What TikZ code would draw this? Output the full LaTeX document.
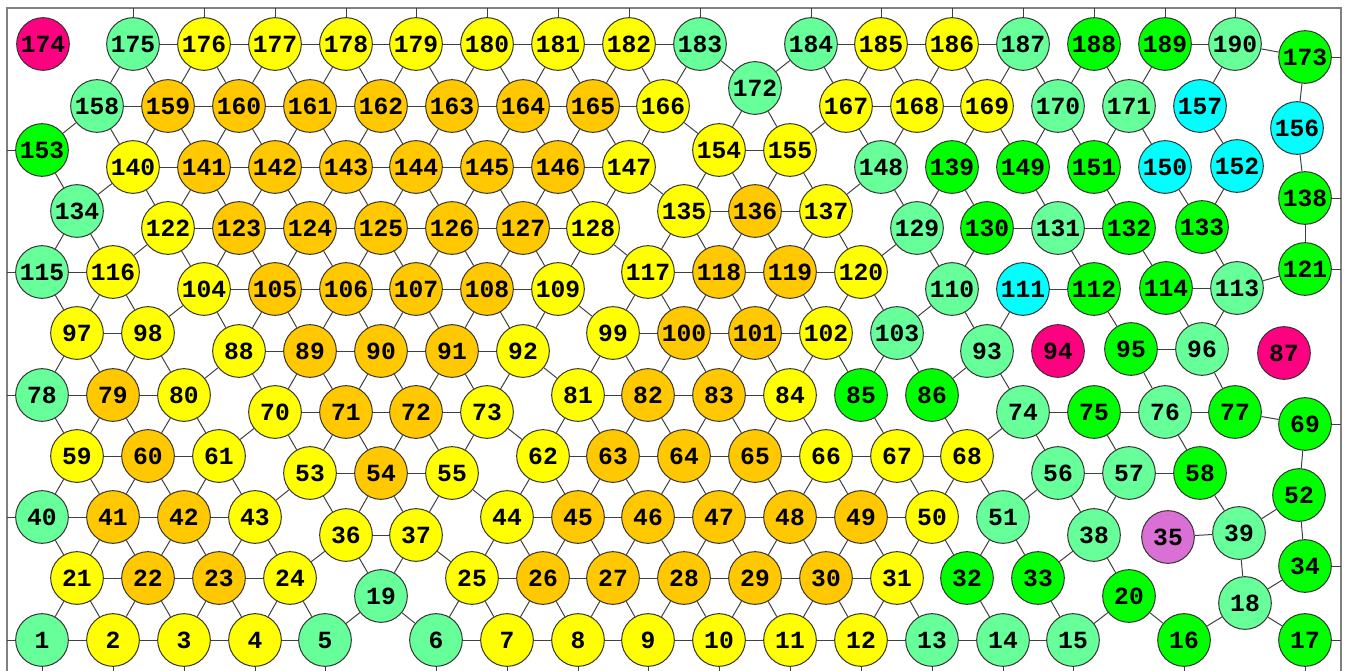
\documentclass[tikz,border=0pt]{standalone}
\usepackage{fontspec}
\setmonofont{Liberation Mono}
\definecolor{cye}{HTML}{FFFF00}
\definecolor{cog}{HTML}{FFC800}
\definecolor{clg}{HTML}{66FF99}
\definecolor{cgr}{HTML}{00FF00}
\definecolor{ccy}{HTML}{00FFFF}
\definecolor{cmg}{HTML}{FF0080}
\definecolor{cor}{HTML}{DA70D6}
\definecolor{cedge}{HTML}{404040}
\definecolor{cframe}{HTML}{808080}
\tikzset{
  nd/.style={circle,draw=black!80,line width=0.75pt,minimum size=39.5pt,inner sep=0pt,
    font=\ttfamily\bfseries\fontsize{18.5}{18.5}\selectfont},
  ye/.style={nd,fill=cye}, og/.style={nd,fill=cog}, lg/.style={nd,fill=clg},
  gr/.style={nd,fill=cgr}, cy/.style={nd,fill=ccy}, mg/.style={nd,fill=cmg}, orc/.style={nd,fill=cor},
  edge/.style={draw=cedge,line width=0.75pt},
  frm/.style={draw=cframe,line width=1.3pt}
}
\begin{document}
\begin{tikzpicture}[x=0.75pt,y=-0.75pt]
\useasboundingbox (0,0) rectangle (1347,671);
\draw[frm] (7,671) -- (7,8) -- (1341,8) -- (1341,671);
\coordinate (top) at (0,8);
\coordinate (lft) at (7,0);
\coordinate (rgt) at (1341,0);
\coordinate (bot) at (0,671);
% nodes
\node[lg] (n1) at (42,640) {1};
\node[ye] (n2) at (113,640) {2};
\node[ye] (n3) at (184,640) {3};
\node[ye] (n4) at (255,640) {4};
\node[lg] (n5) at (325,640) {5};
\node[lg] (n6) at (436,640) {6};
\node[ye] (n7) at (507,640) {7};
\node[ye] (n8) at (578,640) {8};
\node[ye] (n9) at (648,640) {9};
\node[ye] (n10) at (719,640) {10};
\node[ye] (n11) at (790,640) {11};
\node[ye] (n12) at (861,640) {12};
\node[lg] (n13) at (932,640) {13};
\node[lg] (n14) at (1003,640) {14};
\node[lg] (n15) at (1073,640) {15};
\node[gr] (n16) at (1184,640) {16};
\node[gr] (n17) at (1305,640) {17};
\node[lg] (n18) at (1245,603) {18};
\node[lg] (n19) at (381,596) {19};
\node[gr] (n20) at (1129,596) {20};
\node[ye] (n21) at (77,578) {21};
\node[og] (n22) at (148,578) {22};
\node[og] (n23) at (219,578) {23};
\node[ye] (n24) at (290,578) {24};
\node[ye] (n25) at (472,578) {25};
\node[og] (n26) at (543,578) {26};
\node[og] (n27) at (613,578) {27};
\node[og] (n28) at (684,578) {28};
\node[og] (n29) at (755,578) {29};
\node[og] (n30) at (826,578) {30};
\node[ye] (n31) at (897,578) {31};
\node[gr] (n32) at (967,578) {32};
\node[gr] (n33) at (1038,578) {33};
\node[gr] (n34) at (1305,566) {34};
\node[orc] (n35) at (1168,537) {35};
\node[ye] (n36) at (346,535) {36};
\node[ye] (n37) at (416,535) {37};
\node[lg] (n38) at (1094,535) {38};
\node[lg] (n39) at (1239,533) {39};
\node[lg] (n40) at (42,517) {40};
\node[og] (n41) at (113,517) {41};
\node[og] (n42) at (184,517) {42};
\node[ye] (n43) at (255,517) {43};
\node[ye] (n44) at (507,517) {44};
\node[og] (n45) at (578,517) {45};
\node[og] (n46) at (648,517) {46};
\node[og] (n47) at (719,517) {47};
\node[og] (n48) at (790,517) {48};
\node[og] (n49) at (861,517) {49};
\node[ye] (n50) at (932,517) {50};
\node[lg] (n51) at (1003,517) {51};
\node[gr] (n52) at (1299,495) {52};
\node[ye] (n53) at (310,473) {53};
\node[og] (n54) at (381,473) {54};
\node[ye] (n55) at (452,473) {55};
\node[lg] (n56) at (1058,473) {56};
\node[lg] (n57) at (1129,473) {57};
\node[gr] (n58) at (1200,473) {58};
\node[ye] (n59) at (77,456) {59};
\node[og] (n60) at (148,456) {60};
\node[ye] (n61) at (219,456) {61};
\node[ye] (n62) at (543,456) {62};
\node[og] (n63) at (613,456) {63};
\node[og] (n64) at (684,456) {64};
\node[og] (n65) at (755,456) {65};
\node[ye] (n66) at (826,456) {66};
\node[ye] (n67) at (897,456) {67};
\node[ye] (n68) at (967,456) {68};
\node[gr] (n69) at (1305,424) {69};
\node[ye] (n70) at (275,412) {70};
\node[og] (n71) at (346,412) {71};
\node[og] (n72) at (416,412) {72};
\node[ye] (n73) at (487,412) {73};
\node[lg] (n74) at (1023,412) {74};
\node[gr] (n75) at (1094,412) {75};
\node[lg] (n76) at (1165,412) {76};
\node[gr] (n77) at (1235,412) {77};
\node[lg] (n78) at (42,395) {78};
\node[og] (n79) at (113,395) {79};
\node[ye] (n80) at (184,395) {80};
\node[ye] (n81) at (578,395) {81};
\node[og] (n82) at (648,395) {82};
\node[og] (n83) at (719,395) {83};
\node[ye] (n84) at (790,395) {84};
\node[gr] (n85) at (861,395) {85};
\node[gr] (n86) at (932,395) {86};
\node[mg] (n87) at (1284,353) {87};
\node[ye] (n88) at (239,351) {88};
\node[og] (n89) at (310,351) {89};
\node[og] (n90) at (381,351) {90};
\node[og] (n91) at (452,351) {91};
\node[ye] (n92) at (523,351) {92};
\node[lg] (n93) at (987,351) {93};
\node[mg] (n94) at (1058,351) {94};
\node[gr] (n95) at (1131,349) {95};
\node[lg] (n96) at (1202,349) {96};
\node[ye] (n97) at (77,333) {97};
\node[ye] (n98) at (148,333) {98};
\node[ye] (n99) at (613,333) {99};
\node[og] (n100) at (684,333) {100};
\node[og] (n101) at (755,333) {101};
\node[ye] (n102) at (826,333) {102};
\node[lg] (n103) at (897,333) {103};
\node[ye] (n104) at (204,289) {104};
\node[og] (n105) at (275,289) {105};
\node[og] (n106) at (346,289) {106};
\node[og] (n107) at (416,289) {107};
\node[og] (n108) at (487,289) {108};
\node[ye] (n109) at (558,289) {109};
\node[lg] (n110) at (952,289) {110};
\node[cy] (n111) at (1023,289) {111};
\node[gr] (n112) at (1094,289) {112};
\node[lg] (n113) at (1237,288) {113};
\node[gr] (n114) at (1166,288) {114};
\node[lg] (n115) at (42,272) {115};
\node[ye] (n116) at (113,272) {116};
\node[ye] (n117) at (648,272) {117};
\node[og] (n118) at (719,272) {118};
\node[og] (n119) at (790,272) {119};
\node[ye] (n120) at (861,272) {120};
\node[gr] (n121) at (1305,269) {121};
\node[ye] (n122) at (168,228) {122};
\node[og] (n123) at (239,228) {123};
\node[og] (n124) at (310,228) {124};
\node[og] (n125) at (381,228) {125};
\node[og] (n126) at (452,228) {126};
\node[og] (n127) at (523,228) {127};
\node[ye] (n128) at (593,228) {128};
\node[lg] (n129) at (917,228) {129};
\node[gr] (n130) at (987,228) {130};
\node[lg] (n131) at (1058,228) {131};
\node[gr] (n132) at (1129,228) {132};
\node[gr] (n133) at (1202,227) {133};
\node[lg] (n134) at (77,211) {134};
\node[ye] (n135) at (684,211) {135};
\node[og] (n136) at (755,211) {136};
\node[ye] (n137) at (826,211) {137};
\node[gr] (n138) at (1305,198) {138};
\node[gr] (n139) at (952,167) {139};
\node[ye] (n140) at (133,167) {140};
\node[og] (n141) at (204,167) {141};
\node[og] (n142) at (275,167) {142};
\node[og] (n143) at (346,167) {143};
\node[og] (n144) at (416,167) {144};
\node[og] (n145) at (487,167) {145};
\node[og] (n146) at (558,167) {146};
\node[ye] (n147) at (629,167) {147};
\node[lg] (n148) at (881,167) {148};
\node[gr] (n149) at (1023,167) {149};
\node[cy] (n150) at (1165,167) {150};
\node[gr] (n151) at (1094,167) {151};
\node[cy] (n152) at (1237,166) {152};
\node[gr] (n153) at (42,150) {153};
\node[ye] (n154) at (719,150) {154};
\node[ye] (n155) at (790,150) {155};
\node[cy] (n156) at (1297,128) {156};
\node[cy] (n157) at (1200,106) {157};
\node[lg] (n158) at (97,106) {158};
\node[og] (n159) at (168,106) {159};
\node[og] (n160) at (239,106) {160};
\node[og] (n161) at (310,106) {161};
\node[og] (n162) at (381,106) {162};
\node[og] (n163) at (452,106) {163};
\node[og] (n164) at (523,106) {164};
\node[og] (n165) at (593,106) {165};
\node[ye] (n166) at (663,106) {166};
\node[ye] (n167) at (846,106) {167};
\node[ye] (n168) at (917,106) {168};
\node[ye] (n169) at (987,106) {169};
\node[lg] (n170) at (1058,106) {170};
\node[lg] (n171) at (1129,106) {171};
\node[lg] (n172) at (755,88) {172};
\node[gr] (n173) at (1305,57) {173};
\node[mg] (n174) at (43,44) {174};
\node[lg] (n175) at (133,44) {175};
\node[ye] (n176) at (204,44) {176};
\node[ye] (n177) at (275,44) {177};
\node[ye] (n178) at (346,44) {178};
\node[ye] (n179) at (416,44) {179};
\node[ye] (n180) at (487,44) {180};
\node[ye] (n181) at (558,44) {181};
\node[ye] (n182) at (629,44) {182};
\node[lg] (n183) at (700,44) {183};
\node[lg] (n184) at (811,44) {184};
\node[ye] (n185) at (881,44) {185};
\node[ye] (n186) at (952,44) {186};
\node[lg] (n187) at (1023,44) {187};
\node[gr] (n188) at (1094,44) {188};
\node[gr] (n189) at (1165,44) {189};
\node[lg] (n190) at (1235,44) {190};
% edges
\foreach \a/\b in {175/176,176/177,177/178,178/179,179/180,180/181,181/182,182/183,184/185,185/186,186/187,189/190,190/173,
158/159,159/160,160/161,161/162,162/163,163/164,164/165,165/166,167/168,168/169,
140/141,141/142,142/143,143/144,144/145,145/146,146/147,154/155,
122/123,123/124,124/125,125/126,126/127,127/128,135/136,136/137,130/131,131/132,
115/116,104/105,105/106,106/107,107/108,108/109,117/118,118/119,119/120,111/112,114/113,113/121,
97/98,88/89,89/90,90/91,91/92,99/100,100/101,101/102,95/96,
78/79,79/80,70/71,71/72,72/73,81/82,82/83,83/84,74/75,75/76,76/77,77/69,
59/60,60/61,53/54,54/55,62/63,63/64,64/65,65/66,66/67,67/68,56/57,57/58,
40/41,41/42,42/43,36/37,44/45,45/46,46/47,47/48,48/49,49/50,35/39,
21/22,22/23,23/24,25/26,26/27,27/28,28/29,29/30,30/31,
1/2,2/3,3/4,4/5,6/7,7/8,8/9,9/10,10/11,11/12,12/13,13/14,14/15}
  \draw[edge] (n\a) -- (n\b);
\foreach \a/\b in {175/158,175/159,176/159,176/160,177/160,177/161,178/161,178/162,179/162,179/163,180/163,180/164,181/164,181/165,182/165,182/166,183/166,183/172,184/172,184/167,185/167,185/168,186/168,186/169,187/169,187/170,188/170,188/171,189/171,190/157,
153/158,158/140,159/140,159/141,160/141,160/142,161/142,161/143,162/143,162/144,163/144,163/145,164/145,164/146,165/146,165/147,166/147,166/154,172/154,172/155,167/155,167/148,168/148,169/139,169/149,170/149,170/151,171/151,171/150,157/152,
153/134,140/134,140/122,141/122,141/123,142/123,142/124,143/124,143/125,144/125,144/126,145/126,145/127,146/127,146/128,147/128,147/135,154/135,154/136,155/136,155/137,148/137,148/129,139/129,139/130,149/131,151/132,150/133,152/133,
173/156,156/138,
134/115,134/116,122/116,122/104,123/104,123/105,124/105,124/106,125/106,125/107,126/107,126/108,127/108,127/109,128/109,128/117,135/117,135/118,136/118,136/119,137/119,137/120,129/120,129/110,130/110,131/112,132/114,133/113,138/121,
115/97,116/97,116/98,104/98,104/88,105/88,105/89,106/89,106/90,107/90,107/91,108/91,108/92,109/92,109/99,117/99,117/100,118/100,118/101,119/101,119/102,120/102,120/103,110/103,110/93,111/93,112/95,114/96,113/96,
97/78,97/79,98/79,98/80,88/80,88/70,89/70,89/71,90/71,90/72,91/72,91/73,92/73,92/81,99/81,99/82,100/82,100/83,101/83,101/84,102/84,102/85,103/85,103/86,93/86,93/74,95/76,96/77,
78/59,79/59,79/60,80/60,80/61,70/61,70/53,71/53,71/54,72/54,72/55,73/55,73/62,81/62,81/63,82/63,82/64,83/64,83/65,84/65,84/66,85/67,86/68,74/68,74/56,75/57,76/58,69/52,
59/40,59/41,60/41,60/42,61/42,61/43,53/43,53/36,54/36,54/37,55/37,55/44,62/44,62/45,63/45,63/46,64/46,64/47,65/47,65/48,66/48,66/49,67/49,67/50,68/50,68/51,56/51,56/38,57/38,58/39,
40/21,41/21,41/22,42/22,42/23,43/23,43/24,36/24,36/19,37/19,37/25,44/25,44/26,45/26,45/27,46/27,46/28,47/28,47/29,48/29,48/30,49/30,49/31,50/31,50/32,51/32,51/33,38/33,38/20,39/18,39/52,52/34,
21/1,21/2,22/2,22/3,23/3,23/4,24/4,24/5,19/5,19/6,25/6,25/7,26/7,26/8,27/8,27/9,28/9,28/10,29/10,29/11,30/11,30/12,31/12,31/13,32/14,33/15,20/15,20/16,18/16,18/17,18/34}
  \draw[edge] (n\a) -- (n\b);
% ticks to the frame
\foreach \a in {175,176,177,178,179,180,181,182,183,184,185,186,187,188,189,190}
  \draw[edge] (n\a) -- (n\a |- top);
\foreach \a in {153,115,78,40,1}
  \draw[edge] (n\a) -- (n\a -| lft);
\foreach \a in {173,138,121,69,34,17}
  \draw[edge] (n\a) -- (n\a -| rgt);
\foreach \a in {1,2,3,4,5,6,7,8,9,10,11,12,13,14,15,16,17}
  \draw[edge] (n\a) -- (n\a |- bot);
\end{tikzpicture}
\end{document}
